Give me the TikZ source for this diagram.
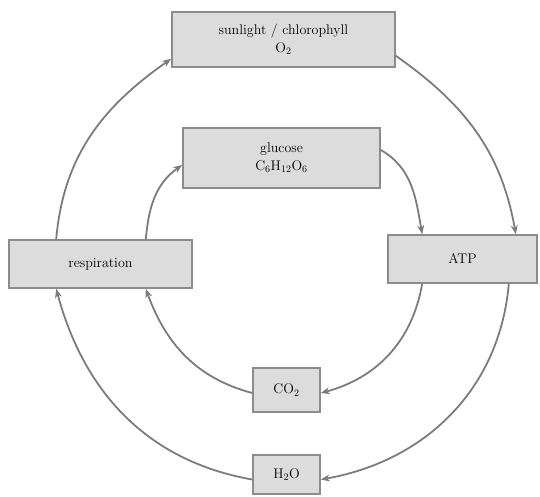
\documentclass[tikz,border=0pt]{standalone}
\usetikzlibrary{arrows.meta}
\definecolor{boxfill}{HTML}{DCDCDC}
\definecolor{boxline}{HTML}{8C8C8C}
\definecolor{arrowgray}{HTML}{7C7C7C}
\begin{document}
\begin{tikzpicture}[x=1pt,y=-1pt,
  box/.style={draw=boxline,fill=boxfill,line width=1.6pt,inner sep=0pt,align=center,font=\fontsize{14}{18}\selectfont},
  cyc/.style={draw=arrowgray,line width=1.8pt,-{Stealth[length=9pt,width=7pt]}}]
\useasboundingbox (0,0) rectangle (540,497);
\node[box,minimum width=223pt,minimum height=55pt] (top) at (283.5,39.5) {sunlight / chlorophyll\\O$_2$};
\node[box,minimum width=197pt,minimum height=60pt] (mid) at (281.5,158) {glucose\\C$_6$H$_{12}$O$_6$};
\node[box,minimum width=183pt,minimum height=48pt] (lft) at (100.5,264) {respiration};
\node[box,minimum width=149pt,minimum height=48pt] (rgt) at (462.5,259) {ATP};
\node[box,minimum width=67pt,minimum height=44pt] (inb) at (286.5,390) {CO$_2$};
\node[box,minimum width=67pt,minimum height=39pt] (outb) at (286.5,474.5) {H$_2$O};
% outer cycle
\draw[cyc] ([xshift=48pt]lft.north west) to[out=85,in=215] ([yshift=9pt]top.south west);
\draw[cyc] ([yshift=12pt]top.south east) to[out=-35,in=100] ([xshift=-22pt]rgt.north east);
\draw[cyc] ([xshift=-29pt]rgt.south east) to[out=-95,in=10] ([yshift=-5pt]outb.east);
\draw[cyc] ([yshift=-5pt]outb.west) to[out=170,in=-75] ([xshift=48pt]lft.south west);
% inner cycle
\draw[cyc] ([xshift=-47pt]lft.north east) to[out=85,in=215] ([yshift=-7pt]mid.west);
\draw[cyc] ([yshift=8pt]mid.east) to[out=-30,in=100] ([xshift=35pt]rgt.north west);
\draw[cyc] ([xshift=35pt]rgt.south west) to[out=-100,in=15] ([yshift=-3pt]inb.east);
\draw[cyc] ([yshift=-3pt]inb.west) to[out=165,in=-70] ([xshift=-47pt]lft.south east);
\end{tikzpicture}
\end{document}
